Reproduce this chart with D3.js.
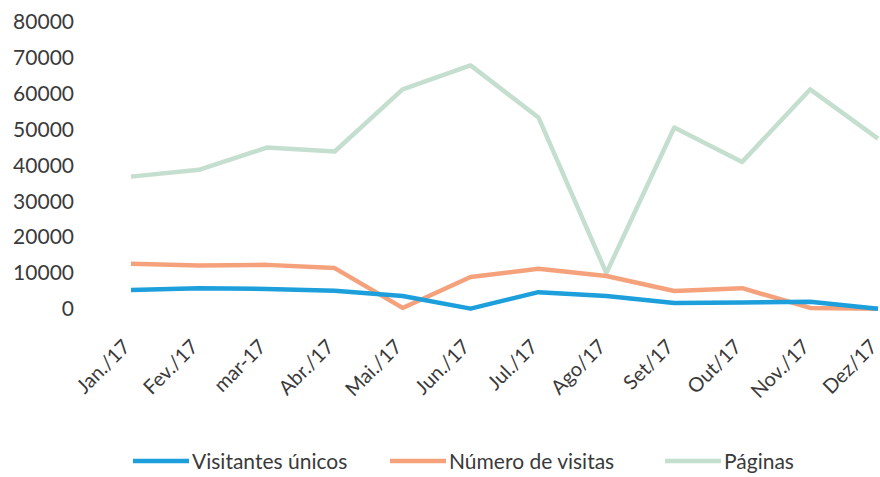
<!DOCTYPE html>
<html><head><meta charset="utf-8">
<script src="https://cdn.jsdelivr.net/npm/d3@7"></script>
<style>body{margin:0;background:#fff}svg{display:block}</style>
</head><body><svg id="c" width="880" height="477"></svg>
<script>
const categories = ["Jan./17","Fev./17","mar-17","Abr./17","Mai./17","Jun./17","Jul./17","Ago/17","Set/17","Out/17","Nov./17","Dez/17"];
const visitantes = [5300,5800,5600,5100,3600,100,4700,3600,1700,1800,2000,100];
const visitas = [12600,12100,12300,11400,300,8900,11200,9200,5000,5800,300,100];
const paginas = [36900,38800,45000,43900,61200,67900,53400,10000,50600,41000,61200,47500];
const yTicks = [0,10000,20000,30000,40000,50000,60000,70000,80000];
const seriesNames = ["Visitantes únicos","Número de visitas","Páginas"];
const colors = ["#1d9fdc","#f5a27c","#c4dfcf"];

const svg = d3.select("#c");
const font = "Lato, 'Open Sans', sans-serif";
const x = d3.scalePoint().domain(categories).range([131, 878]);
const y = d3.scaleLinear().domain([0, 80000]).range([309, 22]);

const yAxis = svg.append("g").attr("transform","translate(74,0)")
  .call(d3.axisLeft(y).tickValues(yTicks).tickSize(0).tickPadding(0).tickFormat(d3.format("d")));
yAxis.select(".domain").remove();
yAxis.selectAll("text").attr("font-family",font).attr("font-size",21).attr("fill","#3a3a3a");

const xAxis = svg.append("g").attr("transform","translate(0,335)")
  .call(d3.axisBottom(x).tickSize(0).tickPadding(0));
xAxis.select(".domain").remove();
xAxis.selectAll("text").attr("font-family",font).attr("font-size",20).attr("fill","#3a3a3a")
  .attr("text-anchor","end").attr("dy","0").attr("transform","translate(0,13) rotate(-45)");

const data = [visitantes, visitas, paginas];
const line = d3.line().x((d,i)=>x(categories[i])).y(d=>y(d));
[2,1,0].forEach(k=>{
  svg.append("path").datum(data[k]).attr("d",line).attr("fill","none")
    .attr("stroke",colors[k]).attr("stroke-width",4.5).attr("stroke-linejoin","round");
});

const legend = svg.append("g");
const legX = [133, 390, 665];
seriesNames.forEach((n,i)=>{
  const g = legend.append("g").attr("transform",`translate(${legX[i]},461)`);
  g.append("line").attr("x1",0).attr("x2",56).attr("y1",0).attr("y2",0)
    .attr("stroke",colors[i]).attr("stroke-width",4.5);
  g.append("text").attr("x",59).attr("y",8).attr("font-family",font).attr("font-size",21)
    .attr("fill","#3a3a3a").text(n);
});
</script></body></html>
